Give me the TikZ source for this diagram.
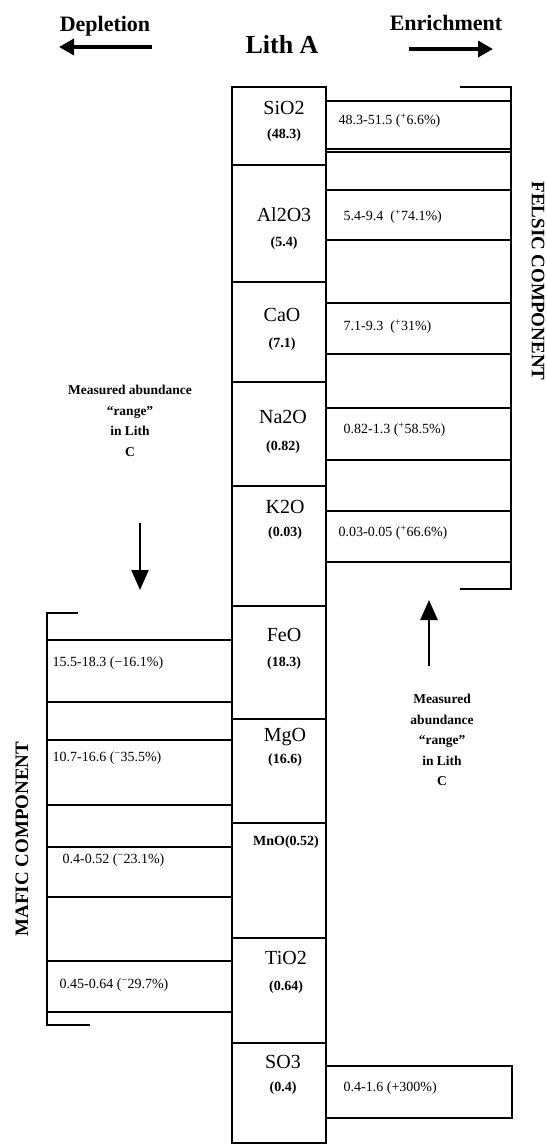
\documentclass[tikz,border=0pt]{standalone}
\usepackage{fontspec}
\setmainfont{Liberation Serif}
\usetikzlibrary{arrows.meta}

\tikzset{
  oxide/.style={font=\fontsize{20}{20}\selectfont},
  wt/.style={font=\bfseries\fontsize{14}{14}\selectfont},
  span/.style={font=\fontsize{14}{14}\selectfont,anchor=west,inner sep=0pt},
  measure/.style={font=\bfseries\fontsize{13.5}{20.5}\selectfont,align=center},
  comp/.style={font=\bfseries\fontsize{19}{19}\selectfont},
  head/.style={font=\bfseries\fontsize{22}{22}\selectfont},
  bigarrow/.style={line width=3.5pt,-{Triangle[length=15pt,width=16pt]}},
  tallarrow/.style={line width=2.5pt,-{Triangle[length=20pt,width=17pt]}},
}

\begin{document}
\begin{tikzpicture}[x=1pt,y=1pt,line width=1.4pt]
\useasboundingbox (0,0) rectangle (546,-1145);

% headings
\node[head] (dep) at (105,-26) {Depletion};
\node[font=\bfseries\fontsize{26}{26}\selectfont] (lith) at (282,-45) {Lith A};
\node[head] (enr) at (446,-23) {Enrichment};
\coordinate (depA) at (152,-47);
\coordinate (depB) at (59,-47);
\coordinate (enrA) at (409,-49);
\coordinate (enrB) at (493,-49);
\draw[bigarrow] (depA) -- (depB);
\draw[bigarrow] (enrA) -- (enrB);

% Lith A column
\draw (232,-87) rectangle (326,-1143);
\draw (232,-165) -- ++(94,0) (232,-282) -- ++(94,0)
  (232,-382) -- ++(94,0) (232,-486) -- ++(94,0)
  (232,-606) -- ++(94,0) (232,-719) -- ++(94,0)
  (232,-823) -- ++(94,0) (232,-938) -- ++(94,0)
  (232,-1043) -- ++(94,0);
\node[oxide] (sio2) at (284,-108) {SiO2};
\node[wt] (sio2v) at (284,-135) {(48.3)};
\node[oxide] (al2o3) at (284,-215) {Al2O3};
\node[wt] (al2o3v) at (284,-243) {(5.4)};
\node[oxide] (cao) at (282,-315) {CaO};
\node[wt] (caov) at (282,-344) {(7.1)};
\node[oxide] (na2o) at (283,-417) {Na2O};
\node[wt] (na2ov) at (283,-447) {(0.82)};
\node[oxide] (k2o) at (285,-507) {K2O};
\node[wt] (k2ov) at (285,-533) {(0.03)};
\node[oxide] (feo) at (284,-635) {FeO};
\node[wt] (feov) at (284,-663) {(18.3)};
\node[oxide] (mgo) at (285,-737) {MgO};
\node[wt] (mgov) at (285,-760) {(16.6)};
\node[wt] (mno) at (286,-842) {MnO(0.52)};
\node[oxide] (tio2) at (286,-958) {TiO2};
\node[wt] (tio2v) at (286,-987) {(0.64)};
\node[oxide] (so3) at (283,-1062) {SO3};
\node[wt] (so3v) at (283,-1088) {(0.4)};

% felsic side
\draw (326,-101) -- ++(185,0) (326,-149) -- ++(185,0)
  (326,-152) -- ++(185,0) (326,-190) -- ++(185,0)
  (326,-240) -- ++(185,0) (326,-303) -- ++(185,0)
  (326,-354) -- ++(185,0) (326,-408) -- ++(185,0)
  (326,-460) -- ++(185,0) (326,-511) -- ++(185,0)
  (326,-562) -- ++(185,0);
\draw (460,-87) -- (511,-87) -- (511,-589) -- (460,-589);
\node[span] (sio2r) at (338,-121) {48.3-51.5 (\textsuperscript{+}6.6\%)};
\node[span] (al2o3r) at (343,-217) {5.4-9.4 \ (\textsuperscript{+}74.1\%)};
\node[span] (caor) at (343,-327) {7.1-9.3 \ (\textsuperscript{+}31\%)};
\node[span] (na2or) at (343,-430) {0.82-1.3 (\textsuperscript{+}58.5\%)};
\node[span] (k2or) at (338,-533) {0.03-0.05 (\textsuperscript{+}66.6\%)};
\node[comp,rotate=-90] (felsic) at (538,-281) {FELSIC COMPONENT};

% mafic side
\draw (47,-640) -- ++(185,0) (47,-702) -- ++(185,0)
  (47,-740) -- ++(185,0) (47,-805) -- ++(185,0)
  (47,-847) -- ++(185,0) (47,-897) -- ++(185,0)
  (47,-961) -- ++(185,0) (47,-1012) -- ++(185,0);
\draw (78,-613) -- (47,-613) -- (47,-1025) -- (90,-1025);
\node[span] (feor) at (52,-663) {15.5-18.3 (−16.1\%)};
\node[span] (mgor) at (52,-758) {10.7-16.6 (\textsuperscript{−}35.5\%)};
\node[span] (mnor) at (62,-860) {0.4-0.52 (\textsuperscript{−}23.1\%)};
\node[span] (tio2r) at (59,-985) {0.45-0.64 (\textsuperscript{−}29.7\%)};
\node[comp,rotate=90] (mafic) at (22,-839) {MAFIC COMPONENT};

% SO3 range
\draw (326,-1066) rectangle (512,-1118);
\node[span] (so3r) at (343,-1088) {0.4-1.6 (+300\%)};

% measured ranges
\node[measure] (measL) at (130,-421) {Measured abundance\\“range”\\in Lith\\C};
\coordinate (dnA) at (140,-523);
\coordinate (dnB) at (140,-590);
\draw[tallarrow] (dnA) -- (dnB);
\node[measure] (measR) at (442,-740) {Measured\\abundance\\“range”\\in Lith\\C};
\coordinate (upA) at (429,-666);
\coordinate (upB) at (429,-600);
\draw[tallarrow] (upA) -- (upB);
\end{tikzpicture}
\end{document}
